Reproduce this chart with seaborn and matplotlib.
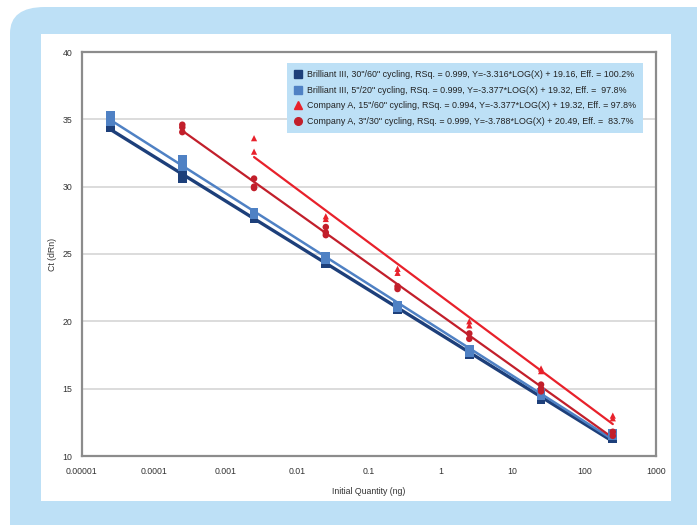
import numpy as np
import pandas as pd
import matplotlib
matplotlib.use("Agg")
import matplotlib.pyplot as plt
from matplotlib.patches import FancyBboxPatch, Rectangle
from matplotlib.lines import Line2D
from matplotlib.ticker import FixedLocator, FixedFormatter, NullLocator
import seaborn as sns

sns.set_style("white")
plt.rcParams['font.family'] = ['Liberation Sans Narrow', 'Liberation Sans', 'DejaVu Sans']

# ---- data ----
bd_x = [2.5e-5, 2.5e-5, 2.5e-4, 2.5e-4, 2.5e-3, 2.5e-3, 0.025, 0.025, 0.25, 0.25, 2.5, 2.5, 25, 25, 250, 250]
bd_y = [34.5, 34.4, 30.9, 30.6, 27.7, 27.6, 24.4, 24.3, 21.0, 20.9, 17.6, 17.5, 14.3, 14.2, 11.4, 11.3]

bl_x = [2.5e-5, 2.5e-5, 2.5e-5, 2.5e-4, 2.5e-4, 2.5e-4, 2.5e-3, 2.5e-3, 0.025, 0.025, 0.25, 0.25, 2.5, 2.5, 25, 25, 250, 250]
bl_y = [35.3, 35.0, 34.8, 32.0, 31.7, 31.5, 28.1, 27.9, 24.8, 24.6, 21.2, 21.0, 17.9, 17.7, 14.7, 14.5, 11.7, 11.5]

ct_x = [2.5e-3, 2.5e-3, 0.025, 0.025, 0.25, 0.25, 2.5, 2.5, 25, 25, 250, 250]
ct_y = [33.6, 32.6, 27.8, 27.6, 23.9, 23.6, 20.0, 19.7, 16.5, 16.3, 13.0, 12.8]

cc_x = [2.5e-4, 2.5e-4, 2.5e-4, 2.5e-3, 2.5e-3, 2.5e-3, 0.025, 0.025, 0.025, 0.25, 0.25, 2.5, 2.5, 25, 25, 25, 250, 250]
cc_y = [34.6, 34.4, 34.05, 30.6, 30.0, 29.9, 27.0, 26.6, 26.4, 22.6, 22.4, 19.1, 18.7, 15.3, 15.0, 14.8, 11.8, 11.5]

labels = [
    'Brilliant III, 30"/60" cycling, RSq. = 0.999, Y=-3.316*LOG(X) + 19.16, Eff. = 100.2%',
    'Brilliant III, 5"/20" cycling, RSq. = 0.999, Y=-3.377*LOG(X) + 19.32, Eff. =  97.8%',
    'Company A, 15"/60" cycling, RSq. = 0.994, Y=-3.377*LOG(X) + 19.32, Eff. = 97.8%',
    'Company A, 3"/30" cycling, RSq. = 0.999, Y=-3.788*LOG(X) + 20.49, Eff. =  83.7%',
]
x_ticks = [1e-5, 1e-4, 1e-3, 1e-2, 1e-1, 1, 10, 100, 1000]
x_tick_labels = ['0.00001', '0.0001', '0.001', '0.01', '0.1', '1', '10', '100', '1000']
y_ticks = [10, 15, 20, 25, 30, 35, 40]

c_dark = '#1d3f7a'
c_light = '#4f81c4'
c_red = '#e8212b'
c_dred = '#c21f2b'
bg_blue = '#bde0f6'

W, H = 697, 525
fig = plt.figure(figsize=(W / 100, H / 100), dpi=100, facecolor='white')

# background panels (in pixel-derived figure fractions)
fig.patches.append(FancyBboxPatch((10 / W, -0.1), 1.2, 1.1 - 7 / H,
                                  boxstyle="round,pad=0,rounding_size=0.05",
                                  transform=fig.transFigure, facecolor=bg_blue,
                                  edgecolor='none', zorder=-3))
fig.patches.append(Rectangle((41 / W, 1 - 501 / H), (671 - 41) / W, (501 - 34) / H,
                             transform=fig.transFigure, facecolor='white',
                             edgecolor='none', zorder=-2))

ax = fig.add_axes([82 / W, 1 - 456 / H, (656 - 82) / W, (456 - 52) / H])
ax.set_facecolor('white')
ax.set_xscale('log')
ax.set_xlim(1e-5, 1000)
ax.set_ylim(10, 40)

for y in y_ticks[1:-1]:
    ax.axhline(y, color='#d9d9d9', lw=1.3, zorder=0)

series = [
    (bd_x, bd_y, c_dark, 's', 2.4, 40),
    (bl_x, bl_y, c_light, 's', 1.8, 40),
    (ct_x, ct_y, c_red, '^', 1.6, 20),
    (cc_x, cc_y, c_dred, 'o', 1.6, 22),
]
for xs, ys, col, mk, lw, ms in series:
    df = pd.DataFrame({'x': xs, 'y': ys})
    sns.regplot(data=df, x='x', y='y', logx=True, ci=None, scatter=False,
                ax=ax, color=col, line_kws={'lw': lw, 'zorder': 2})
    sns.scatterplot(data=df, x='x', y='y', marker=mk, s=ms, color=col,
                    edgecolor='none', linewidth=0, ax=ax, zorder=3)

ax.set_xscale('log')
ax.set_xlim(1e-5, 1000)
ax.set_ylim(10, 40)
ax.xaxis.set_major_locator(FixedLocator(x_ticks))
ax.xaxis.set_major_formatter(FixedFormatter(x_tick_labels))
ax.xaxis.set_minor_locator(NullLocator())
ax.set_yticks(y_ticks)

for s in ax.spines.values():
    s.set_visible(True)
    s.set_color('#8c8c8c')
    s.set_linewidth(1.6)
ax.tick_params(axis='both', which='major', direction='out', length=4, width=1,
               color='#8c8c8c', labelsize=6.3, labelcolor='#333333', pad=4)
ax.tick_params(axis='y', pad=3)

ax.set_xlabel('Initial Quantity (ng)', fontsize=6.3, color='#333333', labelpad=8)
ax.set_ylabel('Ct (dRn)', fontsize=6.3, color='#333333', labelpad=4)

handles = [
    Line2D([], [], ls='none', marker='s', color=c_dark, markersize=6),
    Line2D([], [], ls='none', marker='s', color=c_light, markersize=6),
    Line2D([], [], ls='none', marker='^', color=c_red, markersize=5.5),
    Line2D([], [], ls='none', marker='o', color=c_dred, markersize=5.5),
]
leg = ax.legend(handles, labels, loc='upper left',
                bbox_to_anchor=((287 - 82) / 574, (456 - 63) / 404),
                fontsize=6.4, frameon=True, fancybox=False, handlelength=0.8,
                handletextpad=0.6, labelspacing=0.75, borderpad=0.8,
                borderaxespad=0)
leg.get_frame().set_facecolor(bg_blue)
leg.get_frame().set_edgecolor('none')
leg.get_frame().set_alpha(1)
for t in leg.get_texts():
    t.set_color('#222222')

fig.savefig('out.png', dpi=100, facecolor='white')
